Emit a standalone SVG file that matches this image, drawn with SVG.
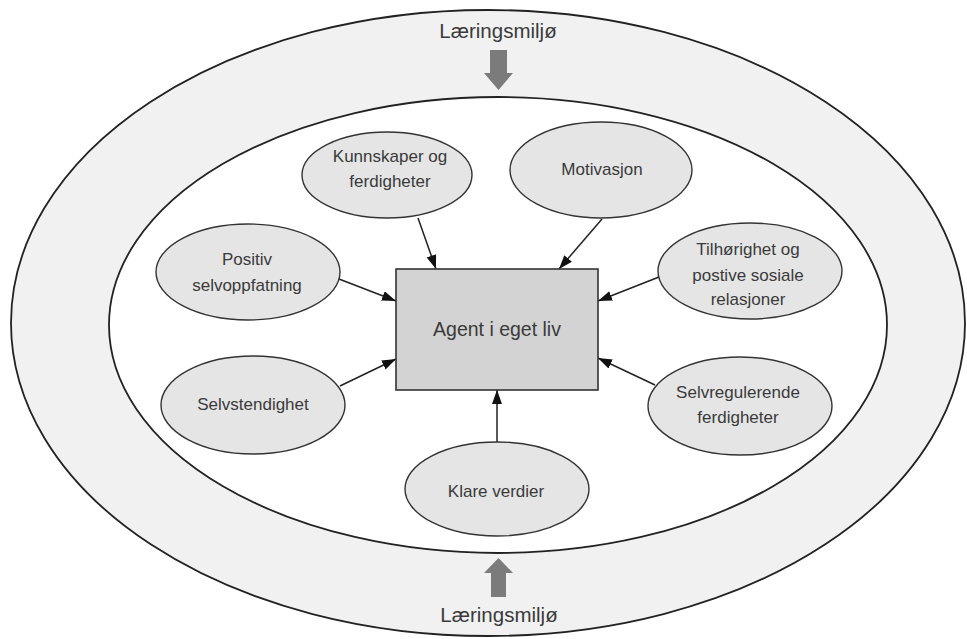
<svg xmlns="http://www.w3.org/2000/svg" width="967" height="639" viewBox="0 0 967 639">
  <style>
    .ring { stroke: #222; stroke-width: 1.8; }
    .node ellipse { fill: #e5e5e5; stroke: #333; stroke-width: 1.4; }
    .lbl { font-family: "Liberation Sans", Arial, sans-serif; font-size: 17px; fill: #3a3a3a; text-anchor: middle; }
    .title { font-family: "Liberation Sans", Arial, sans-serif; font-size: 20.5px; fill: #3a3a3a; text-anchor: middle; }
    .conn line { stroke: #222; stroke-width: 1.5; marker-end: url(#head); }
    .bigarrow { fill: #7b7b7b; }
  </style>
  <defs>
    <marker id="head" markerUnits="userSpaceOnUse" markerWidth="15" markerHeight="11" refX="14" refY="5" orient="auto">
      <path d="M0,0 L14,5 L0,10 z" fill="#111"/>
    </marker>
  </defs>

  <rect width="967" height="639" fill="#fff"/>

  <!-- learning environment rings -->
  <g id="environment">
    <ellipse class="ring" cx="488" cy="323" rx="477" ry="313" fill="#f1f1f1"/>
    <ellipse class="ring" cx="498" cy="325" rx="389" ry="228" fill="#fff"/>
    <text class="title" x="498" y="38">Læringsmiljø</text>
    <text class="title" x="499" y="622">Læringsmiljø</text>
    <path class="bigarrow" d="M490,50 H507 V73 H513 L498.5,90 L484,73 H490 Z"/>
    <path class="bigarrow" d="M491,597 H506 V573 H513 L498.5,558 L484,573 H491 Z"/>
  </g>

  <!-- connectors -->
  <g id="connectors" class="conn">
    <line x1="418" y1="218" x2="436" y2="269"/>
    <line x1="602" y1="219" x2="559" y2="269"/>
    <line x1="339" y1="279" x2="396" y2="301"/>
    <line x1="659" y1="277" x2="598" y2="301"/>
    <line x1="340" y1="386" x2="396" y2="359"/>
    <line x1="655" y1="385" x2="598" y2="358"/>
    <line x1="497" y1="442" x2="497" y2="390"/>
  </g>

  <!-- centre -->
  <g id="agent">
    <rect x="396" y="269" width="202" height="121" fill="#d3d3d3" stroke="#333" stroke-width="1.6"/>
    <text class="lbl" x="497" y="336" style="font-size:19.5px">Agent i eget liv</text>
  </g>

  <g id="kunnskaper" class="node">
    <ellipse cx="387" cy="175" rx="85" ry="43"/>
    <text class="lbl" x="390" y="162">Kunnskaper og</text>
    <text class="lbl" x="390" y="187">ferdigheter</text>
  </g>

  <g id="motivasjon" class="node">
    <ellipse cx="601" cy="170" rx="91" ry="48"/>
    <text class="lbl" x="602" y="175">Motivasjon</text>
  </g>

  <g id="positiv" class="node">
    <ellipse cx="248" cy="272" rx="92" ry="48"/>
    <text class="lbl" x="247" y="265">Positiv</text>
    <text class="lbl" x="247" y="291">selvoppfatning</text>
  </g>

  <g id="tilhorighet" class="node">
    <ellipse cx="750" cy="271" rx="92" ry="48"/>
    <text class="lbl" x="748" y="255">Tilhørighet og</text>
    <text class="lbl" x="748" y="281">postive sosiale</text>
    <text class="lbl" x="748" y="305">relasjoner</text>
  </g>

  <g id="selvstendighet" class="node">
    <ellipse cx="253" cy="405" rx="92" ry="49"/>
    <text class="lbl" x="253" y="410">Selvstendighet</text>
  </g>

  <g id="selvregulerende" class="node">
    <ellipse cx="740" cy="406" rx="92" ry="49"/>
    <text class="lbl" x="738" y="398">Selvregulerende</text>
    <text class="lbl" x="738" y="423">ferdigheter</text>
  </g>

  <g id="klare" class="node">
    <ellipse cx="497" cy="489" rx="92" ry="47"/>
    <text class="lbl" x="496" y="497">Klare verdier</text>
  </g>
</svg>
